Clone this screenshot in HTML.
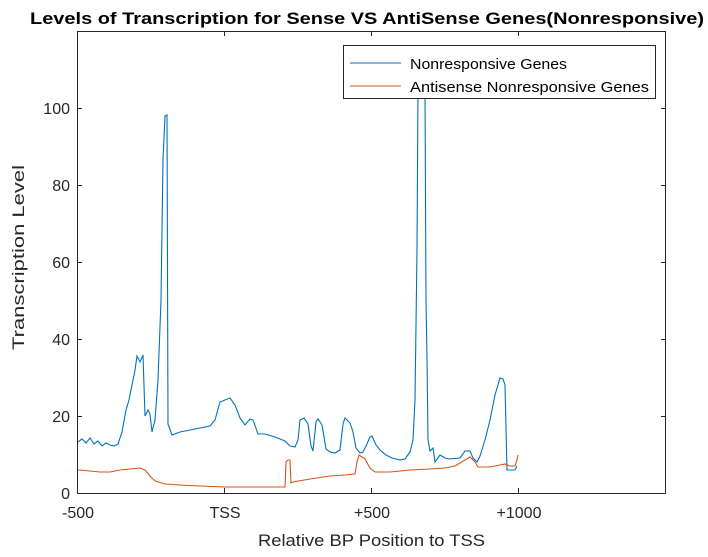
<!DOCTYPE html>
<html><head><style>body{margin:0;background:#fff}</style></head><body>
<svg width="708" height="552" viewBox="0 0 708 552" xmlns="http://www.w3.org/2000/svg" font-family="Liberation Sans, sans-serif">
<rect width="708" height="552" fill="#fff"/>
<text x="30" y="24" font-size="17" font-weight="bold" textLength="674" lengthAdjust="spacingAndGlyphs" fill="#000">Levels of Transcription for Sense VS AntiSense Genes(Nonresponsive)</text>
<g stroke="#262626" stroke-width="1" fill="none">
<rect x="77.5" y="31.5" width="588" height="462"/>
<path d="M224.5 493v-5M371.5 493v-5M518.5 493v-5M224.5 31v5M371.5 31v5M518.5 31v5M77 416.5h5M77 339.5h5M77 262.5h5M77 185.5h5M77 108.5h5M666 416.5h-5M666 339.5h-5M666 262.5h-5M666 185.5h-5M666 108.5h-5"/>
</g>
<g font-size="16" fill="#262626" text-anchor="end">
<text x="70" y="499">0</text><text x="70" y="422">20</text><text x="70" y="345">40</text><text x="70" y="268">60</text><text x="70" y="191">80</text><text x="70" y="114">100</text>
</g>
<g font-size="16" fill="#262626" text-anchor="middle">
<text x="78" y="518">-500</text><text x="225" y="518">TSS</text><text x="372" y="518">+500</text><text x="519" y="518">+1000</text>
</g>
<text x="258" y="546" font-size="17" fill="#262626" textLength="227" lengthAdjust="spacingAndGlyphs">Relative BP Position to TSS</text>
<text transform="translate(24,350) rotate(-90)" font-size="17" fill="#262626" textLength="185" lengthAdjust="spacingAndGlyphs">Transcription Level</text>
<polyline fill="none" stroke="#0072BD" stroke-width="1.1" points="78,442 82,439 86,443 90,438 94,444 98,441 102,446 106,443 110,445 114,446 118,444 122,432 126,410 129,400 132,385 135,370 137,356 140,362 143,355 145,416 148,410 150,414 152,432 155,420 158,380 161,300 163,160 165,116 167,115 168,424 172,435 180,432 190,430 200,428 210,426 215,420 220,402 225,400 230,398 235,405 240,418 245,425 250,419 253,420 258,434 265,434 275,437 285,441 290,446 295,447 298,440 300,420 304,418 308,424 311,446 313,451 316,422 318,419 322,425 326,449 330,452 335,453 340,450 343,424 345,418 350,423 353,432 356,448 360,453 363,452 366,446 370,437 372,436 376,445 380,450 386,455 392,458 400,460 405,459 410,452 413,440 415,400 417,250 418,90 425,90 426,300 427,358 428,440 430,451 433,448 435,462 440,455 445,458 450,459 460,458 465,451 470,451 473,458 477,462 480,456 485,440 490,420 495,395 500,378 503,379 505,385 507,470 515,470 517,466"/>
<polyline fill="none" stroke="#D95319" stroke-width="1.1" points="78,470 90,471 100,472 110,472 120,470 130,469 140,468 145,470 150,476 155,481 165,484 180,485 200,486 225,487 250,487 270,487 285,487 286,462 288,460 290,460 291,483 293,482 310,479 330,476 345,475 355,474 357,462 359,455 362,457 365,459 370,468 375,472 390,472 400,471 410,470 430,469 445,468 455,466 465,460 470,457 475,462 478,467 490,467 500,465 505,464 510,466 515,466 517,460 518,455"/>
<rect x="343.5" y="45.5" width="312" height="53" fill="#fff" stroke="#262626" stroke-width="1"/>
<line x1="350" y1="63" x2="401" y2="63" stroke="#0072BD" stroke-width="1.1"/>
<line x1="350" y1="86" x2="401" y2="86" stroke="#D95319" stroke-width="1.1"/>
<text x="410" y="69" font-size="15" fill="#000" textLength="157" lengthAdjust="spacingAndGlyphs">Nonresponsive Genes</text>
<text x="410" y="92" font-size="15" fill="#000" textLength="239" lengthAdjust="spacingAndGlyphs">Antisense Nonresponsive Genes</text>
</svg>
</body></html>
